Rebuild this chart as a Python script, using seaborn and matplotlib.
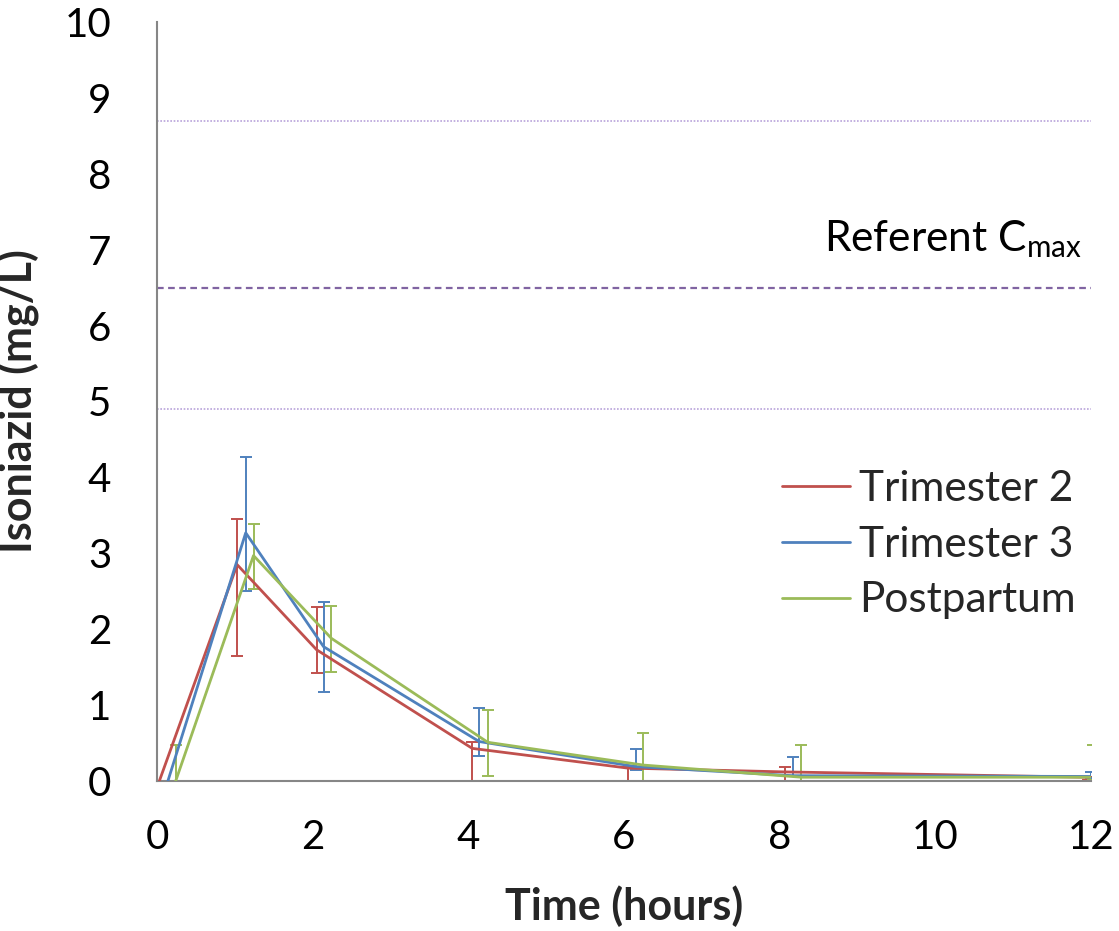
import numpy as np
import pandas as pd
import matplotlib
matplotlib.use("Agg")
import matplotlib.pyplot as plt
import seaborn as sns

# ---- data ----
series_names = ["Trimester 2", "Trimester 3", "Postpartum"]
times_t2 = [0.03, 1.03, 2.05, 4.05, 6.05, 8.07, 11.96]
times_t3 = [0.14, 1.14, 2.14, 4.14, 6.15, 8.17, 12.0]
times_pp = [0.24, 1.24, 2.24, 4.25, 6.25, 8.28, 12.03]
conc_t2 = [0.0, 2.85, 1.73, 0.43, 0.17, 0.12, 0.05]
conc_t3 = [0.0, 3.27, 1.77, 0.52, 0.19, 0.07, 0.06]
conc_pp = [0.0, 2.97, 1.88, 0.51, 0.21, 0.05, 0.05]
upper_t2 = [0.0, 3.45, 2.29, 0.52, 0.19, 0.18, 0.05]
lower_t2 = [0.0, 1.65, 1.42, 0.0, 0.0, 0.0, 0.01]
upper_t3 = [0.0, 4.27, 2.36, 0.96, 0.42, 0.32, 0.12]
lower_t3 = [0.0, 2.50, 1.17, 0.33, 0.15, 0.06, 0.04]
upper_pp = [0.48, 3.39, 2.31, 0.93, 0.63, 0.48, 0.48]
lower_pp = [0.0, 2.53, 1.44, 0.06, 0.0, 0.0, 0.01]
ref_cmax = 6.5
ref_low = 4.9
ref_high = 8.7
x_ticks = [0, 2, 4, 6, 8, 10, 12]
y_ticks = list(range(0, 11))

colors = ["#C0504D", "#4F81BD", "#9BBB59"]
ref_color = "#8064A2"
ref_light = "#B9A3DA"

sns.set_theme(style="white")
plt.rcParams["font.family"] = ["Lato", "DejaVu Sans"]
plt.rcParams["mathtext.fontset"] = "custom"
plt.rcParams["mathtext.rm"] = "Lato"

frames = []
for name, t, c, lo, up in [
    (series_names[0], times_t2, conc_t2, lower_t2, upper_t2),
    (series_names[1], times_t3, conc_t3, lower_t3, upper_t3),
    (series_names[2], times_pp, conc_pp, lower_pp, upper_pp),
]:
    frames.append(pd.DataFrame({"time": t, "conc": c, "lo": lo, "up": up, "group": name}))
df = pd.concat(frames, ignore_index=True)

fig = plt.figure(figsize=(11.19, 9.31), dpi=100)
ax = fig.add_axes([0.1403, 0.1611, 0.975 - 0.1403, 0.9764 - 0.1611])

# reference lines
ax.axhline(ref_high, color=ref_light, lw=1.2, ls=(0, (1, 1)))
ax.axhline(ref_low, color=ref_light, lw=1.2, ls=(0, (1, 1)))
ax.axhline(ref_cmax, color=ref_color, lw=1.6, ls=(0, (3, 2)))

# error bars
for name, col in zip(series_names, colors):
    sub = df[df["group"] == name]
    yerr = np.vstack([sub["conc"] - sub["lo"], sub["up"] - sub["conc"]])
    ax.errorbar(sub["time"], sub["conc"], yerr=yerr, fmt="none", ecolor=col,
                elinewidth=1.4, capsize=4.5, capthick=1.4, clip_on=True, zorder=2)

sns.lineplot(data=df, x="time", y="conc", hue="group", hue_order=series_names,
             palette=colors, linewidth=2.0, ax=ax, sort=False, estimator=None,
             legend=True, zorder=3)

ax.set_xlim(0, 12)
ax.set_ylim(0, 10)
ax.set_xticks(x_ticks)
ax.set_yticks(y_ticks)
ax.tick_params(axis="both", labelsize=29, colors="#868686", length=11, width=1.5,
               direction="out", labelcolor="black")
ax.tick_params(axis="x", pad=16)
ax.tick_params(axis="y", pad=22)
for s in ["top", "right"]:
    ax.spines[s].set_visible(False)
for s in ["left", "bottom"]:
    ax.spines[s].set_color("#868686")
    ax.spines[s].set_linewidth(1.5)

ax.set_xlabel("Time (hours)", fontsize=31, fontweight="bold")
ax.set_ylabel("Isoniazid (mg/L)", fontsize=31, fontweight="bold")
ax.xaxis.set_label_coords(0.5, -0.137)
ax.yaxis.set_label_coords(-0.125, 0.5)

ax.text(11.88, 6.98, r"Referent C$_{\mathregular{max}}$", fontsize=30.5, ha="right",
        va="baseline", color="black")

leg = ax.legend(loc="upper left", bbox_to_anchor=(0.669, 0.41), frameon=False,
                fontsize=30.5, handlelength=1.6, handletextpad=0.22, labelspacing=0.42,
                borderaxespad=0, borderpad=0)
for line in leg.get_lines():
    line.set_linewidth(2.0)

fig.savefig("out.png", dpi=100)
